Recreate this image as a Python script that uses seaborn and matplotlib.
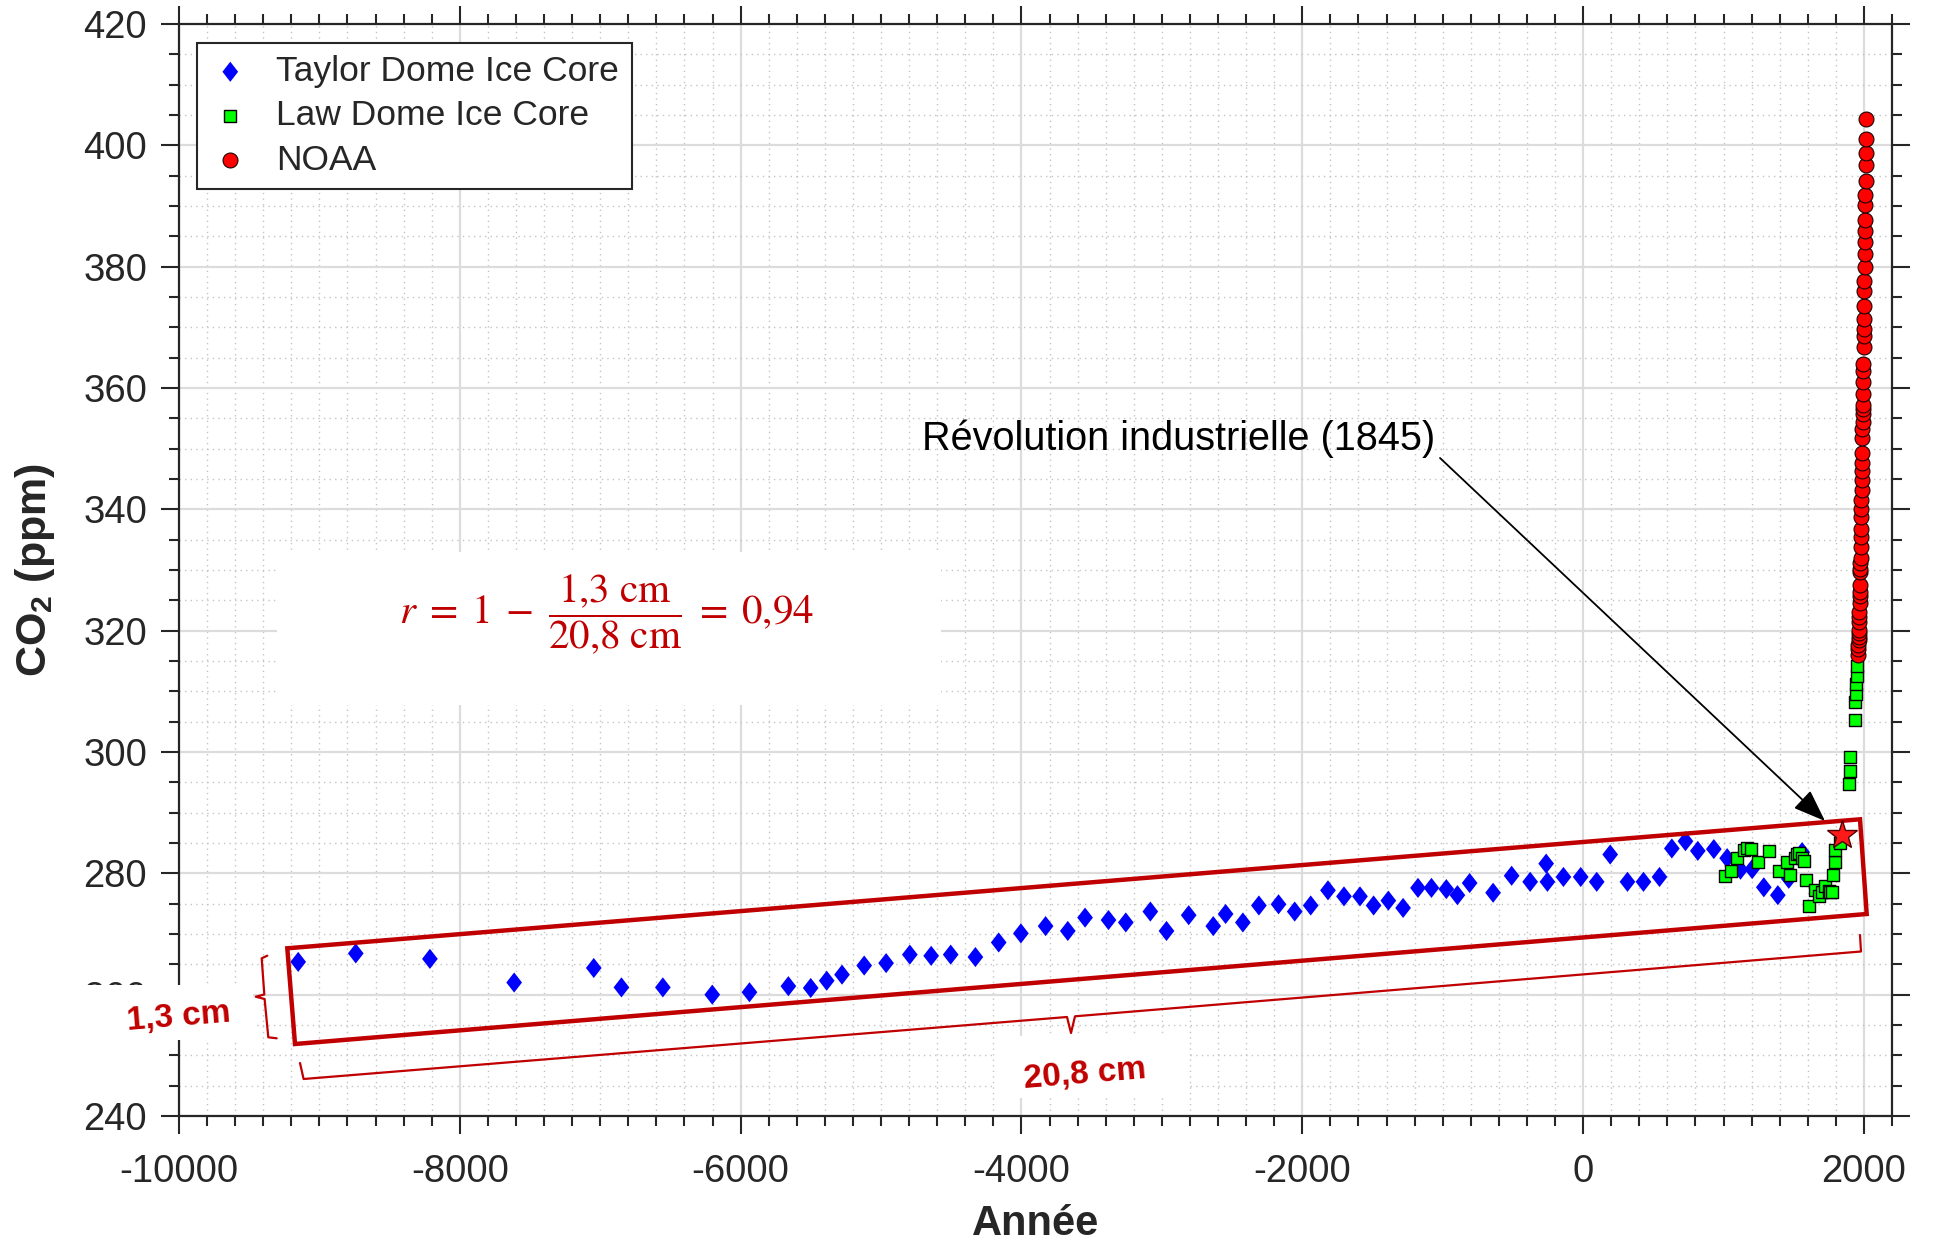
import numpy as np
import pandas as pd
import matplotlib
matplotlib.use("Agg")
import matplotlib.pyplot as plt
import seaborn as sns
from matplotlib.ticker import MultipleLocator, FixedLocator
from matplotlib.transforms import Affine2D
from matplotlib.patches import Polygon, Rectangle, FancyArrowPatch
from matplotlib.lines import Line2D

# ---------------- data ----------------
taylor_year = [-9151, -8741, -8213, -7613, -7046, -6849, -6554, -6202, -5937, -5660,
               -5501, -5387, -5278, -5120, -4964, -4795, -4643, -4504, -4328, -4162,
               -4004, -3828, -3670, -3547, -3380, -3257, -3082, -2967, -2809, -2634,
               -2546, -2423, -2309, -2169, -2054, -1940, -1817, -1703, -1589, -1492,
               -1387, -1282, -1176, -1080, -974, -895, -808, -641, -509, -377,
               -263, -254, -140, -17, 97, 193, 316, 430, 544, 632,
               729, 817, 931, 1026, 1121, 1204, 1287, 1387, 1465, 1560]
taylor_co2 = [265.4, 266.8, 265.9, 262.0, 264.4, 261.2, 261.2, 260.0, 260.4, 261.4,
              261.1, 262.3, 263.3, 264.8, 265.2, 266.6, 266.4, 266.6, 266.2, 268.6,
              270.1, 271.3, 270.5, 272.7, 272.3, 271.9, 273.7, 270.5, 273.1, 271.3,
              273.3, 271.9, 274.7, 274.9, 273.7, 274.7, 277.2, 276.2, 276.2, 274.7,
              275.5, 274.3, 277.6, 277.6, 277.4, 276.4, 278.4, 276.8, 279.6, 278.6,
              281.6, 278.6, 279.4, 279.4, 278.6, 283.1, 278.6, 278.6, 279.4, 284.1,
              285.3, 283.7, 284.0, 282.5, 280.6, 280.7, 277.7, 276.4, 279.1, 283.5]

law_year = [1009, 1050, 1098, 1144, 1165, 1197, 1244, 1322, 1394, 1453,
            1472, 1508, 1525, 1536, 1560, 1572, 1591, 1608, 1650, 1679,
            1700, 1726, 1750, 1760, 1774, 1778, 1797, 1797, 1830, 1895,
            1898, 1902, 1933, 1940, 1943, 1945, 1948, 1950]
law_co2 = [279.5, 280.4, 282.5, 283.9, 284.1, 284.0, 281.8, 283.6, 280.4, 281.8,
           279.7, 282.5, 283.2, 283.4, 282.6, 282.1, 278.9, 274.6, 277.3, 276.2,
           277.0, 277.9, 277.1, 276.9, 276.9, 279.8, 281.8, 283.8, 285.0, 294.8,
           296.8, 299.2, 305.2, 308.2, 309.6, 311.2, 312.6, 314.2]

noaa_year = list(range(1959, 2017))
noaa_co2 = [315.98, 316.91, 317.64, 318.45, 318.99, 319.62, 320.04, 321.37, 322.18, 323.05,
            324.62, 325.68, 326.32, 327.46, 329.68, 330.19, 331.13, 332.03, 333.84, 335.41,
            336.84, 338.76, 340.12, 341.48, 343.15, 344.85, 346.35, 347.61, 349.31, 351.69,
            353.20, 354.45, 355.70, 356.54, 357.21, 358.96, 360.97, 362.74, 363.88, 366.84,
            368.54, 369.71, 371.32, 373.45, 375.98, 377.70, 379.98, 382.09, 384.02, 385.83,
            387.64, 390.10, 391.85, 394.06, 396.74, 398.81, 401.01, 404.41]

revolution_year = [1845]
revolution_co2 = [286.3]

x_ticks = [-10000, -8000, -6000, -4000, -2000, 0, 2000]
y_ticks = [240, 260, 280, 300, 320, 340, 360, 380, 400, 420]

series_labels = ["Taylor Dome Ice Core", "Law Dome Ice Core", "NOAA"]

# ---------------- style ----------------
sns.set_style("ticks")
plt.rcParams['font.family'] = ['Liberation Sans', 'DejaVu Sans']
plt.rcParams['axes.unicode_minus'] = False
plt.rcParams['mathtext.fontset'] = 'custom'
plt.rcParams['mathtext.rm'] = 'Liberation Sans'
plt.rcParams['mathtext.bf'] = 'Liberation Sans:bold'
plt.rcParams['mathtext.it'] = 'Liberation Sans:italic'

DARK = '#262626'
RED = '#C00000'
W, H = 1934, 1244
fig = plt.figure(figsize=(W / 100, H / 100), dpi=100)
ax = fig.add_axes([179 / W, 1 - 1116 / H, (1892 - 179) / W, (1116 - 24) / H])

df_t = pd.DataFrame({'year': taylor_year, 'co2': taylor_co2})
df_l = pd.DataFrame({'year': law_year, 'co2': law_co2})
df_n = pd.DataFrame({'year': noaa_year, 'co2': noaa_co2})

diamond = [(0, 1), (0.78, 0), (0, -1), (-0.78, 0), (0, 1)]
sns.scatterplot(data=df_t, x='year', y='co2', marker=diamond, s=210, color='#0000FF',
                edgecolor='none', linewidth=0, label=series_labels[0], ax=ax, zorder=3)
sns.scatterplot(data=df_l, x='year', y='co2', marker='s', s=75, color='#00FF00',
                edgecolor='black', linewidth=1.0, label=series_labels[1], ax=ax, zorder=4)
sns.scatterplot(data=df_n, x='year', y='co2', marker='o', s=115, color='#FF0000',
                edgecolor='#1a0000', linewidth=0.8, label=series_labels[2], ax=ax, zorder=5)

ax.set_xlim(-10000, 2200)
ax.set_ylim(240, 420)
ax.xaxis.set_major_locator(FixedLocator(x_ticks))
ax.yaxis.set_major_locator(FixedLocator(y_ticks))
ax.xaxis.set_minor_locator(MultipleLocator(200))
ax.yaxis.set_minor_locator(MultipleLocator(5))

ax.grid(which='major', color='#dcdcdc', linewidth=1.6, linestyle='-')
ax.grid(which='minor', color='#c4c4c4', linewidth=1.0, linestyle=(0, (1, 3)))
ax.set_axisbelow(True)

for sp in ax.spines.values():
    sp.set_visible(True)
    sp.set_color(DARK)
    sp.set_linewidth(1.6)

ax.tick_params(which='both', direction='out', top=True, right=True, color=DARK,
               width=1.5, labelsize=27.5, labelcolor=DARK)
ax.tick_params(which='major', length=13)
ax.tick_params(which='minor', length=7.2)
ax.tick_params(axis='y', which='major', pad=10)
ax.tick_params(axis='x', which='major', pad=14)

ax.set_xlabel('Année', fontsize=30, fontweight='bold', color=DARK)
ax.set_ylabel(r'CO$_\mathbf{2}$ (ppm)', fontsize=31, fontweight='bold', color=DARK)
ax.xaxis.set_label_coords(0.5, -0.081)
ax.yaxis.set_label_coords(-0.071, 0.5)

leg = ax.legend(loc='upper left', bbox_to_anchor=(0.0103, 0.9829), borderaxespad=0,
                fontsize=25.5, frameon=True, fancybox=False, edgecolor=DARK, framealpha=1,
                handlelength=1.2, handletextpad=0.7, borderpad=0.35, labelspacing=0.32)
leg.get_frame().set_linewidth(1.5)

# ---------------- overlays (reference pixel coordinates) ----------------
pix = Affine2D().scale(1 / W, -1 / H).translate(0, 1) + fig.transFigure

# white backgrounds of pasted labels
for (x0, y0, x1, y1) in [(276.5, 551.7, 941, 705), (70, 985, 253, 1040), (995, 1036, 1188, 1098)]:
    fig.add_artist(Rectangle((x0, y0), x1 - x0, y1 - y0, transform=pix,
                             facecolor='white', edgecolor='none', zorder=5))

# tilted rectangle around the data
fig.add_artist(Polygon([(287.3, 948.3), (1860, 819.3), (1866.7, 914), (295, 1044)],
                       closed=True, transform=pix, fill=False, edgecolor=RED,
                       linewidth=3.2, joinstyle='miter', zorder=8))

# left brace (1,3 cm)
lx = [267.3, 261.7, 264.3, 255.7, 264.6, 268.3, 276.7]
ly = [955.7, 958.3, 994.5, 996.7, 999.0, 1037.3, 1038.3]
fig.add_artist(Line2D(lx, ly, transform=pix, color=RED, linewidth=1.6, zorder=8))

# bottom brace (20,8 cm)
bx = [300, 303.6, 1067, 1071, 1075, 1861, 1860]
by = [1063, 1079, 1017.0, 1033, 1016.3, 951.5, 935]
fig.add_artist(Line2D(bx, by, transform=pix, color=RED, linewidth=1.6, zorder=8))

fig.text(179 / W, 1 - 1017 / H, '1,3 cm', fontsize=24, fontweight='bold', color=RED,
         ha='center', va='center', rotation=4.7, zorder=9)
fig.text(1085 / W, 1 - 1075 / H, '20,8 cm', fontsize=24, fontweight='bold', color=RED,
         ha='center', va='center', rotation=4.7, zorder=9)

fig.text(607 / W, 1 - 615 / H,
         r'$r\;=\;1\;-\;\dfrac{1{,}3\ \mathrm{cm}}{20{,}8\ \mathrm{cm}}\;=\;0{,}94$',
         fontsize=29.5, color=RED, ha='center', va='center', math_fontfamily='stix', zorder=9)

# annotation of the industrial revolution
fig.text(922 / W, 1 - 450 / H, 'Révolution industrielle (1845)', fontsize=28.5,
         color='black', ha='left', va='baseline', zorder=9)
fig.add_artist(FancyArrowPatch(posA=(1440, 458), posB=(1825, 821), transform=pix,
                               arrowstyle='-|>,head_length=0.8,head_width=0.3',
                               mutation_scale=25, linewidth=1.3, color='black',
                               shrinkA=0, shrinkB=0, zorder=9))

star = Line2D(revolution_year, revolution_co2, transform=ax.transData, marker='*',
              markersize=22, markerfacecolor='#FF1a1a', markeredgecolor='#500000',
              markeredgewidth=1.0, linestyle='none', zorder=10)
fig.add_artist(star)

fig.savefig('out.png', dpi=100, facecolor='white')
